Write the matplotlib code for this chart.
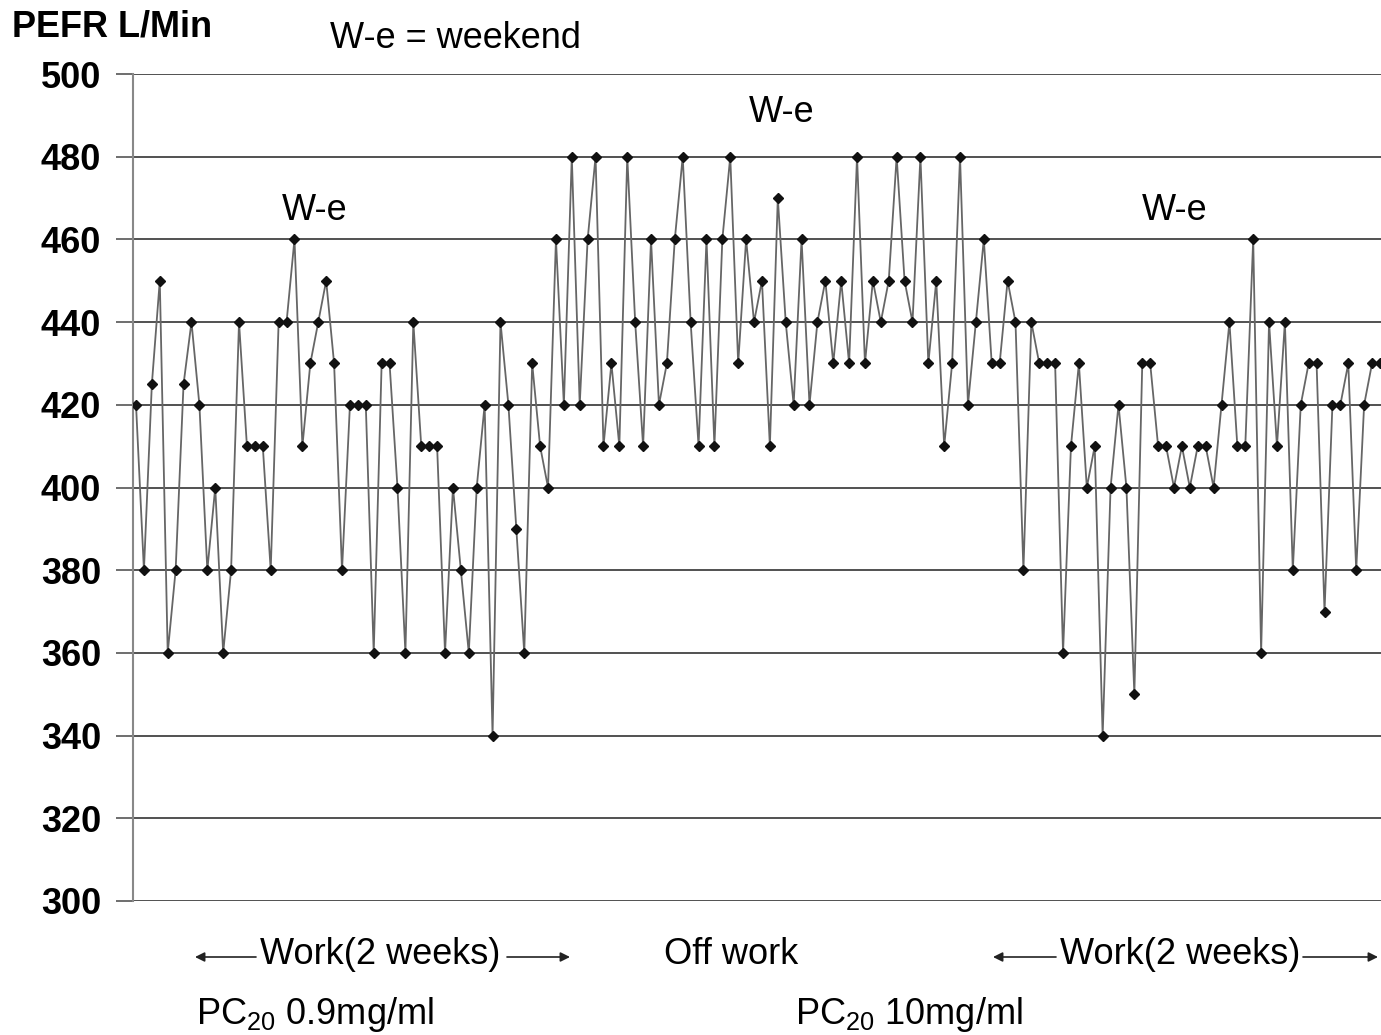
import matplotlib
matplotlib.use("Agg")
import matplotlib.pyplot as plt
import numpy as np

plt.rcParams['font.family'] = ['Liberation Sans', 'DejaVu Sans']

pefr = [420, 380, 425, 450, 360, 380, 425, 440, 420, 380,
        400, 360, 380, 440, 410, 410, 410, 380, 440, 440,
        460, 410, 430, 440, 450, 430, 380, 420, 420, 420,
        360, 430, 430, 400, 360, 440, 410, 410, 410, 360,
        400, 380, 360, 400, 420, 340, 440, 420, 390, 360,
        430, 410, 400, 460, 420, 480, 420, 460, 480, 410,
        430, 410, 480, 440, 410, 460, 420, 430, 460, 480,
        440, 410, 460, 410, 460, 480, 430, 460, 440, 450,
        410, 470, 440, 420, 460, 420, 440, 450, 430, 450,
        430, 480, 430, 450, 440, 450, 480, 450, 440, 480,
        430, 450, 410, 430, 480, 420, 440, 460, 430, 430,
        450, 440, 380, 440, 430, 430, 430, 360, 410, 430,
        400, 410, 340, 400, 420, 400, 350, 430, 430, 410,
        410, 400, 410, 400, 410, 410, 400, 420, 440, 410,
        410, 460, 360, 440, 410, 440, 380, 420, 430, 430,
        370, 420, 420, 430, 380, 420, 430, 430]
y_ticks = [300, 320, 340, 360, 380, 400, 420, 440, 460, 480, 500]

W, H = 1381, 1035
fig = plt.figure(figsize=(W / 100, H / 100), dpi=100)
ax = fig.add_axes([133 / W, 1 - 901 / H, 1 - 133 / W, (901 - 74) / H])

x = np.arange(len(pefr))
ax.plot(x, pefr, color='#666666', lw=1.3, marker='D', markersize=5,
        markerfacecolor='#111111', markeredgecolor='#111111', zorder=3)

ax.set_xlim(-0.38, len(pefr) - 1 + 0.13)
ax.set_ylim(300, 500)
ax.set_yticks(y_ticks)
ax.set_yticklabels([str(v) for v in y_ticks], fontsize=26, fontweight='bold')
ax.set_xticks([])
ax.tick_params(axis='y', length=12, width=1.2, color='#555555', pad=11)
ax.grid(axis='y', color='#222222', lw=1.1)
ax.set_axisbelow(True)
for s in ['top', 'right', 'bottom']:
    ax.spines[s].set_visible(False)
ax.spines['left'].set_color('#888888')
ax.spines['left'].set_linewidth(1.5)

fs = 26
def fx(px):
    return px / W
def fy(py):
    return 1 - py / H

fig.text(fx(12), fy(27), 'PEFR L/Min', fontsize=fs, fontweight='bold', va='center', ha='left')
fig.text(fx(330), fy(39), 'W-e = weekend', fontsize=fs, va='center', ha='left')
fig.text(fx(315), fy(211), 'W-e', fontsize=fs, va='center', ha='center')
fig.text(fx(782), fy(113), 'W-e', fontsize=fs, va='center', ha='center')
fig.text(fx(1175), fy(211), 'W-e', fontsize=fs, va='center', ha='center')

fig.text(fx(380), fy(955), 'Work(2 weeks)', fontsize=fs, va='center', ha='center')
fig.text(fx(731), fy(955), 'Off work', fontsize=fs, va='center', ha='center')
fig.text(fx(1180), fy(955), 'Work(2 weeks)', fontsize=fs, va='center', ha='center')

fig.text(fx(196), fy(1014), r'PC$_{\mathregular{20}}$ 0.9mg/ml', fontsize=fs, va='center', ha='left')
fig.text(fx(795), fy(1014), r'PC$_{\mathregular{20}}$ 10mg/ml', fontsize=fs, va='center', ha='left')

arrows = [(256, 195), (507, 570), (1056, 993), (1303, 1378)]
for x0, x1 in arrows:
    fig.add_artist(matplotlib.patches.FancyArrowPatch(
        (fx(x0), fy(957)), (fx(x1), fy(957)), transform=fig.transFigure,
        arrowstyle='-|>', mutation_scale=14, color='#222222', lw=1.2,
        shrinkA=0, shrinkB=0))

fig.savefig('out.png', dpi=100)
